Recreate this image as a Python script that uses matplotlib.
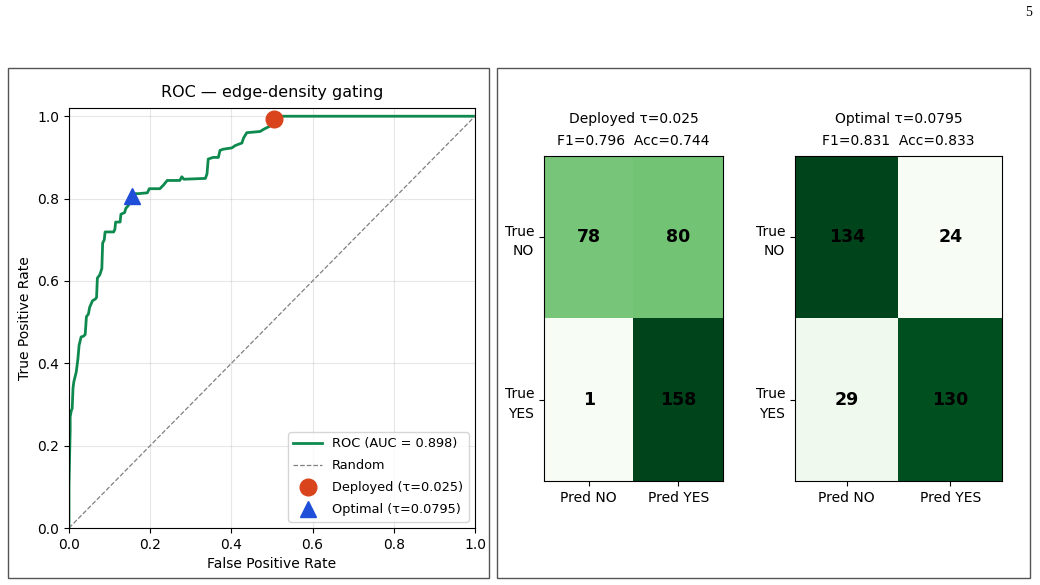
import numpy as np
import matplotlib.pyplot as plt
from matplotlib.patches import Rectangle

# ROC curve vertices (false positive rate, true positive rate)
fpr = [0.000, 0.000, 0.003, 0.003, 0.006, 0.008, 0.010, 0.012, 0.018, 0.022,
       0.025, 0.030, 0.036, 0.040, 0.043, 0.048, 0.051, 0.058, 0.065, 0.068,
       0.070, 0.076, 0.081, 0.083, 0.087, 0.089, 0.110, 0.113, 0.115, 0.126,
       0.128, 0.137, 0.140, 0.146, 0.150, 0.155, 0.160, 0.171, 0.193, 0.198,
       0.224, 0.232, 0.242, 0.273, 0.278, 0.283, 0.336, 0.340, 0.343, 0.355,
       0.368, 0.372, 0.380, 0.401, 0.410, 0.426, 0.430, 0.438, 0.471, 0.479,
       0.495, 0.506, 0.519, 1.000]
tpr = [0.000, 0.100, 0.238, 0.270, 0.286, 0.290, 0.340, 0.355, 0.379, 0.410,
       0.444, 0.464, 0.466, 0.470, 0.513, 0.520, 0.536, 0.552, 0.556, 0.560,
       0.607, 0.615, 0.630, 0.692, 0.700, 0.719, 0.719, 0.725, 0.743, 0.743,
       0.762, 0.766, 0.776, 0.783, 0.790, 0.800, 0.812, 0.812, 0.814, 0.824,
       0.824, 0.832, 0.844, 0.844, 0.853, 0.847, 0.849, 0.860, 0.896, 0.900,
       0.900, 0.917, 0.920, 0.923, 0.929, 0.935, 0.947, 0.960, 0.963, 0.968,
       0.976, 0.990, 1.000, 1.000]
auc = 0.898

deployed_tau = 0.025
optimal_tau = 0.0795
deployed_pt = (0.506, 0.993)
optimal_pt = (0.155, 0.806)

# confusion matrices: rows = true NO / YES, cols = pred NO / YES
cm_deployed = np.array([[78, 80], [1, 158]])
cm_optimal = np.array([[134, 24], [29, 130]])
metrics_deployed = (0.796, 0.744)
metrics_optimal = (0.831, 0.833)
row_labels = ["True\nNO", "True\nYES"]
col_labels = ["Pred NO", "Pred YES"]

fig = plt.figure(figsize=(10.4, 5.85), dpi=100)

# panel frames
for x, w in [(0.0077, 0.4625), (0.4779, 0.5125)]:
    fig.patches.append(Rectangle((x, 0.012), w, 0.8718, transform=fig.transFigure,
                                 fill=False, edgecolor="#555555", linewidth=1.0))
fig.text(0.992, 0.978, "5", family="Liberation Serif", fontsize=10, ha="right", va="center")

# ROC
ax = fig.add_axes([0.0663, 0.0974, 0.3904, 0.718])
ax.plot(fpr, tpr, color="#0e8a4f", lw=2, label=f"ROC (AUC = {auc:.3f})")
ax.plot([0, 1], [0, 1], "--", color="gray", lw=0.9, label="Random")
ax.plot(*deployed_pt, "o", color="#d9441c", ms=12, label=f"Deployed (τ={deployed_tau})")
ax.plot(*optimal_pt, "^", color="#1f4fd8", ms=11, label=f"Optimal (τ={optimal_tau})")
ax.set_xlim(0, 1)
ax.set_ylim(0, 1.02)
ax.set_xlabel("False Positive Rate")
ax.set_ylabel("True Positive Rate")
ax.set_title("ROC — edge-density gating", fontsize=11.5, pad=8)
ax.grid(alpha=0.3)
ax.legend(loc="lower right", fontsize=9.3, handlelength=2.2, labelspacing=0.7)

# confusion matrices
def draw_cm(rect, cm, tau, name, metrics):
    a = fig.add_axes(rect)
    a.imshow(cm, cmap="Greens", aspect="auto")
    for i in range(2):
        for j in range(2):
            a.text(j, i, str(cm[i, j]), ha="center", va="center",
                   fontsize=12.5, fontweight="bold", color="black")
    a.set_xticks([0, 1])
    a.set_xticklabels(col_labels)
    a.set_yticks([0, 1])
    a.set_yticklabels(row_labels, linespacing=1.5)
    a.set_title(f"{name} τ={tau}\nF1={metrics[0]:.3f}  Acc={metrics[1]:.3f}",
                fontsize=10, linespacing=1.75, pad=8)

draw_cm([0.5231, 0.1778, 0.1721, 0.5556], cm_deployed, deployed_tau, "Deployed", metrics_deployed)
draw_cm([0.7644, 0.1778, 0.1990, 0.5556], cm_optimal, optimal_tau, "Optimal", metrics_optimal)

fig.savefig("out.png", dpi=100)
